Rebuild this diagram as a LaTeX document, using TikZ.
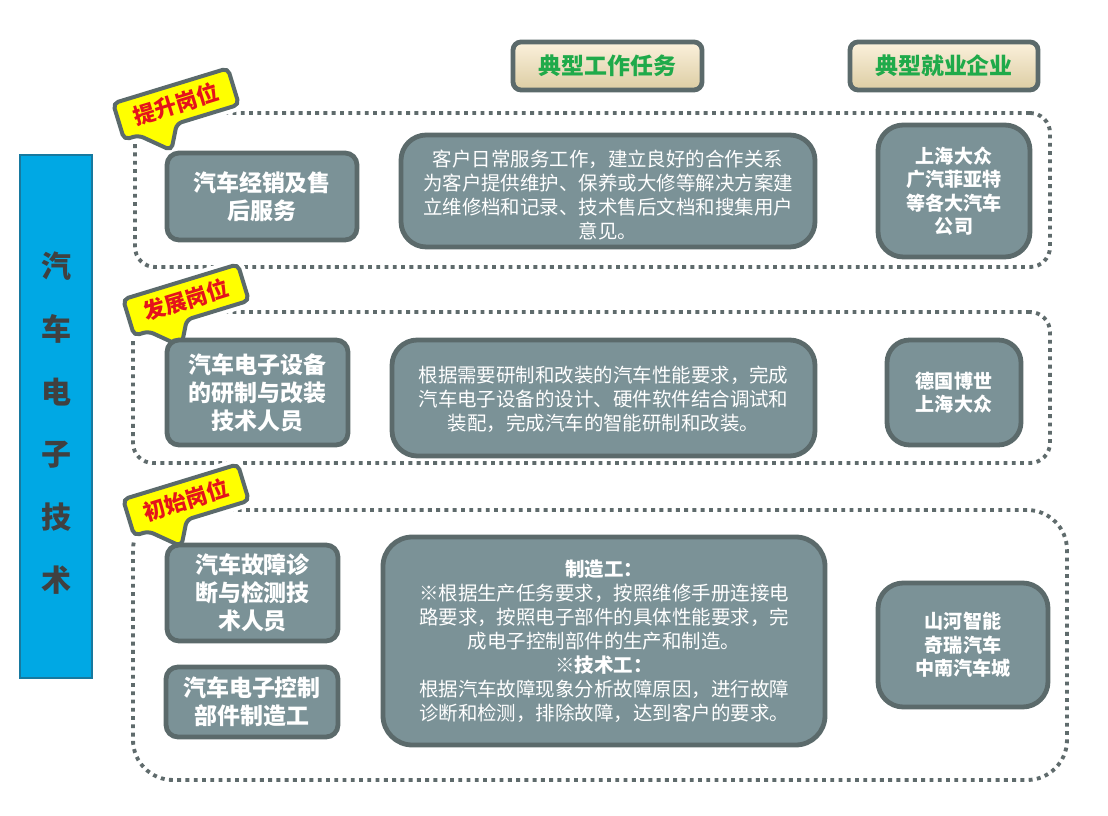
\documentclass[tikz,border=0pt]{standalone}
\usepackage{fontspec}
\setmainfont{Noto Sans CJK SC}
\usetikzlibrary{fit}
\definecolor{boxfill}{HTML}{7B9297}
\definecolor{boxline}{HTML}{5B6A6B}
\definecolor{dotc}{HTML}{5F6B6C}
\definecolor{barfill}{HTML}{00A8E4}
\definecolor{barline}{HTML}{17799F}
\definecolor{bartext}{HTML}{404040}
\definecolor{hdrgreen}{HTML}{1FAA4A}
\definecolor{hdrtop}{HTML}{FBF1DC}
\definecolor{hdrbot}{HTML}{DCCDA3}
\definecolor{tagred}{HTML}{E5131B}
\definecolor{tagyellow}{HTML}{FFFF00}
\tikzset{
 box/.style={draw=boxline, line width=3.6pt, fill=boxfill, rounded corners=#1, inner sep=0pt},
 box/.default=10pt,
 boxtext/.style={text=white, align=center, inner sep=0pt},
 lefttext/.style={boxtext, font=\bfseries\fontsize{17.2pt}{21pt}\selectfont},
 midtext/.style={boxtext, font=\fontsize{14.6pt}{18pt}\selectfont},
 righttext/.style={boxtext, font=\bfseries\fontsize{14.3pt}{17.6pt}\selectfont},
 dotbox/.style={draw=dotc, line width=2.9pt, dash pattern=on 2.9pt off 3.3pt, rounded corners=#1, inner sep=0pt},
 dotbox/.default=15pt,
 hdr/.style={draw=boxline, line width=3.6pt, rounded corners=6pt, top color=hdrtop, bottom color=hdrbot, inner sep=0pt},
 hdrtext/.style={text=hdrgreen, inner sep=0pt, font=\bfseries\fontsize{17.2pt}{20pt}\selectfont},
 tagbox/.style={draw=boxline, line width=3pt, fill=tagyellow, rounded corners=4pt},
 taghalo/.style={draw=white, line width=9pt, rounded corners=4pt},
 tagtext/.style={text=tagred, font=\bfseries\fontsize{16.5pt}{18pt}\selectfont, rotate=17},
}
\newcommand\jobtag[4]{%
 \begin{scope}[shift={(#2,#3)}, rotate=17]
  \path[taghalo] (-60,-19) -- (60,-19) -- (60,19) -- (-5,19) -- (-18,43) -- (-45,19) -- (-60,19) -- cycle;
  \path[tagbox] (-60,-19) -- (60,-19) -- (60,19) -- (-5,19) -- (-18,43) -- (-45,19) -- (-60,19) -- cycle;
  \node[tagtext] (#1) at (0,0) {#4};
 \end{scope}}
\begin{document}
\begin{tikzpicture}[x=0.75pt, y=-0.75pt]
\useasboundingbox[fill=white] (0,0) rectangle (1108,816);
% left bar
\node[draw=barline, line width=2pt, fill=barfill, inner sep=0pt, fit={(20,155) (92,678)}] (bar) {};
\node[text=bartext, font=\bfseries\fontsize{22.5pt}{47pt}\selectfont, align=center] (bartxt) at (56,423) {汽\\车\\电\\子\\技\\术};
% headers
\node[hdr, fit={(513,42) (702,90)}] (h1) {};
\node[hdrtext] (h1t) at (h1.center) {典型工作任务};
\node[hdr, fit={(850,42) (1038,90)}] (h2) {};
\node[hdrtext] (h2t) at (h2.center) {典型就业企业};
% dotted groups
\node[dotbox=15pt, fit={(135,113) (1050,267)}] (g1) {};
\node[dotbox=15pt, fit={(133,312) (1050,463)}] (g2) {};
\node[dotbox=30pt, fit={(133,510) (1067,780)}] (g3) {};
% tags
\jobtag{t1}{176}{104}{提升岗位}
\jobtag{t2}{186}{300}{发展岗位}
\jobtag{t3}{186}{500}{初始岗位}
% left boxes
\node[box=9pt, fit={(167,153) (357,240)}] (l1) {};
\node[lefttext] (l1t) at (l1.center) {汽车经销及售\\后服务};
\node[box=9pt, fit={(167,340) (348,445)}] (l2) {};
\node[lefttext] (l2t) at (l2.center) {汽车电子设备\\的研制与改装\\技术人员};
\node[box=9pt, fit={(167,545) (338,641)}] (l3) {};
\node[lefttext] (l3t) at (l3.center) {汽车故障诊\\断与检测技\\术人员};
\node[box=9pt, fit={(166,667) (338,737)}] (l4) {};
\node[lefttext] (l4t) at (l4.center) {汽车电子控制\\部件制造工};
% middle boxes
\node[box=19pt, fit={(401,135) (815,247)}] (m1) {};
\node[midtext] (m1t) at ([yshift=-3pt]m1.center) {客户日常服务工作，建立良好的合作关系\\为客户提供维护、保养或大修等解决方案建\\立维修档和记录、技术售后文档和搜集用户\\意见。};
\node[box=19pt, fit={(392,340) (815,456)}] (m2) {};
\node[midtext] (m2t) at ([yshift=-1pt]m2.center) {根据需要研制和改装的汽车性能要求，完成\\汽车电子设备的设计、硬件软件结合调试和\\装配，完成汽车的智能研制和改装。};
\node[box=22pt, fit={(383,537) (825,745)}] (m3) {};
\node[midtext] (m3t) at (m3.center) {{\bfseries 制造工：}\\※根据生产任务要求，按照维修手册连接电\\路要求，按照电子部件的具体性能要求，完\\成电子控制部件的生产和制造。\\{\bfseries ※技术工：}\\根据汽车故障现象分析故障原因，进行故障\\诊断和检测，排除故障，达到客户的要求。};
% right boxes
\node[box=19pt, fit={(878,125) (1030,257)}] (r1) {};
\node[righttext] (r1t) at (r1.center) {上海大众\\广汽菲亚特\\等各大汽车\\公司};
\node[box=17pt, fit={(887,340) (1021,445)}] (r2) {};
\node[righttext] (r2t) at (r2.center) {德国博世\\上海大众};
\node[box=19pt, fit={(878,583) (1048,707)}] (r3) {};
\node[righttext] (r3t) at (r3.center) {山河智能\\奇瑞汽车\\中南汽车城};
\end{tikzpicture}
\end{document}
